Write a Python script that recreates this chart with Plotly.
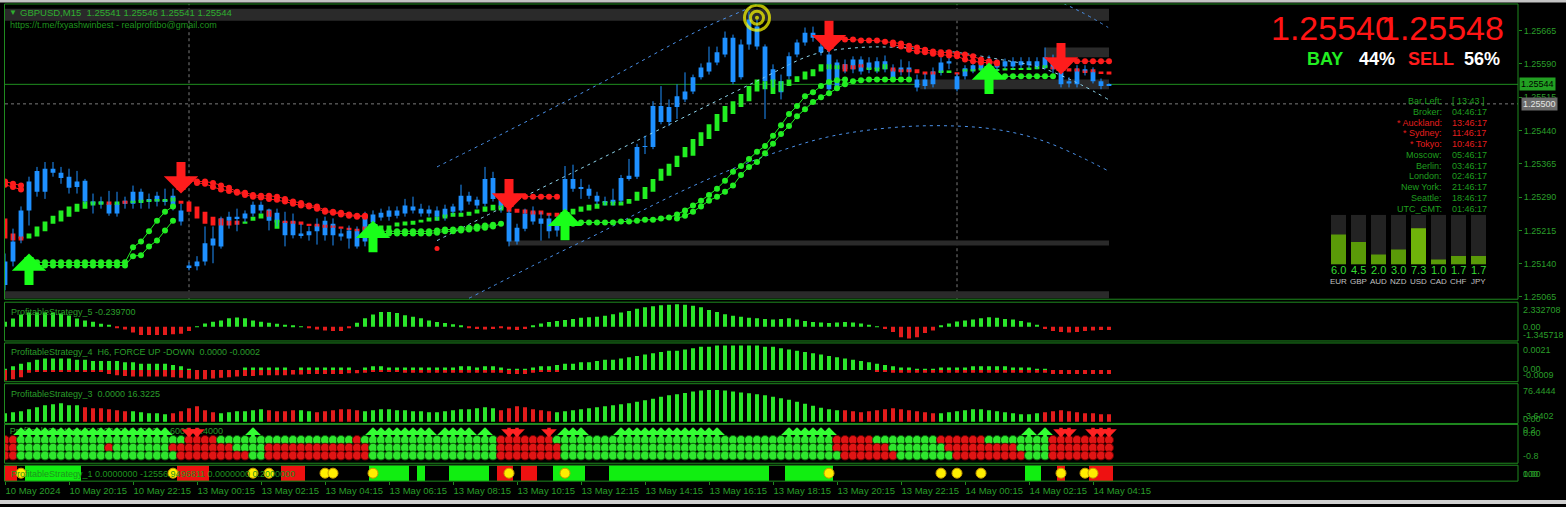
import plotly.graph_objects as go

W, H = 1566, 507
def px(x): return x / W
def py(y): return 1 - y / H

# ---------------- DATA ----------------
tick_idx = [0, 8, 16, 24, 32, 40, 48, 56, 64, 72, 80, 88, 96, 104, 112, 120, 128, 136]
tick_text = ["10 May 2024", "10 May 20:15", "10 May 22:15", "13 May 00:15", "13 May 02:15",
             "13 May 04:15", "13 May 06:15", "13 May 08:15", "13 May 10:15", "13 May 12:15",
             "13 May 14:15", "13 May 16:15", "13 May 18:15", "13 May 20:15", "13 May 22:15",
             "14 May 00:15", "14 May 02:15", "14 May 04:15"]
day_sep_idx = [23, 119]

O = [1.25092,1.25145,1.25197,1.25260,1.25302,1.25302,1.25354,1.25345,1.25336,1.25313,
     1.25327,1.25280,1.25275,1.25275,1.25253,1.25275,1.25275,1.25302,1.25280,1.25280,
     1.25282,1.25269,1.25260,1.25136,1.25134,1.25145,1.25181,1.25179,1.25237,1.25246,
     1.25242,1.25253,1.25273,1.25262,1.25233,1.25235,1.25204,1.25208,1.25204,1.25213,
     1.25237,1.25204,1.25208,1.25215,1.25215,1.25190,1.25233,1.25244,1.25246,1.25260,
     1.25253,1.25269,1.25264,1.25253,1.25260,1.25246,1.25257,1.25260,1.25293,1.25284,
     1.25275,1.25333,1.25286,1.25255,1.25190,1.25219,1.25257,1.25230,1.25242,1.25215,
     1.25260,1.25331,1.25309,1.25309,1.25293,1.25280,1.25277,1.25282,1.25331,1.25336,
     1.25403,1.25403,1.25495,1.25459,1.25493,1.25510,1.25528,1.25560,1.25573,1.25593,
     1.25611,1.25649,1.25560,1.25634,1.25674,1.25629,1.25551,1.25551,1.25562,1.25611,
     1.25638,1.25660,1.25629,1.25611,1.25537,1.25589,1.25578,1.25600,1.25578,1.25578,
     1.25596,1.25578,1.25573,1.25582,1.25555,1.25540,1.25544,1.25571,1.25596,1.25562,
     1.25562,1.25575,1.25578,1.25584,1.25593,1.25584,1.25596,1.25587,1.25596,1.25584,
     1.25582,1.25593,1.25571,1.25546,1.25544,1.25578,1.25573,1.25551,1.25541]
HI = [1.25163,1.25219,1.25269,1.25336,1.25358,1.25369,1.25369,1.25358,1.25354,1.25349,
      1.25331,1.25298,1.25291,1.25304,1.25302,1.25291,1.25316,1.25309,1.25298,1.25302,
      1.25309,1.25309,1.25275,1.25143,1.25157,1.25224,1.25224,1.25246,1.25257,1.25264,
      1.25260,1.25280,1.25280,1.25264,1.25264,1.25257,1.25253,1.25230,1.25224,1.25242,
      1.25246,1.25242,1.25219,1.25226,1.25224,1.25257,1.25260,1.25264,1.25269,1.25269,
      1.25286,1.25291,1.25275,1.25271,1.25269,1.25273,1.25275,1.25318,1.25302,1.25291,
      1.25358,1.25347,1.25298,1.25264,1.25230,1.25264,1.25269,1.25257,1.25251,1.25246,
      1.25360,1.25363,1.25331,1.25318,1.25302,1.25291,1.25309,1.25340,1.25376,1.25410,
      1.25428,1.25506,1.25540,1.25510,1.25544,1.25571,1.25566,1.25591,1.25629,1.25629,
      1.25663,1.25656,1.25645,1.25708,1.25690,1.25634,1.25589,1.25566,1.25616,1.25645,
      1.25672,1.25674,1.25645,1.25618,1.25600,1.25600,1.25607,1.25607,1.25605,1.25605,
      1.25609,1.25589,1.25600,1.25596,1.25566,1.25569,1.25582,1.25605,1.25605,1.25569,
      1.25587,1.25596,1.25600,1.25609,1.25600,1.25602,1.25605,1.25605,1.25605,1.25605,
      1.25627,1.25611,1.25578,1.25560,1.25587,1.25587,1.25582,1.25557,1.25546]
LO = [1.25080,1.25134,1.25186,1.25226,1.25291,1.25286,1.25336,1.25320,1.25298,1.25298,
      1.25275,1.25253,1.25264,1.25248,1.25246,1.25264,1.25264,1.25264,1.25264,1.25269,
      1.25271,1.25260,1.25226,1.25125,1.25125,1.25136,1.25141,1.25174,1.25219,1.25213,
      1.25233,1.25246,1.25253,1.25215,1.25224,1.25179,1.25197,1.25197,1.25192,1.25183,
      1.25192,1.25181,1.25192,1.25174,1.25174,1.25179,1.25224,1.25237,1.25237,1.25242,
      1.25246,1.25253,1.25246,1.25246,1.25237,1.25237,1.25251,1.25255,1.25273,1.25264,
      1.25269,1.25280,1.25255,1.25179,1.25183,1.25213,1.25228,1.25192,1.25197,1.25201,
      1.25253,1.25302,1.25286,1.25286,1.25273,1.25271,1.25271,1.25277,1.25327,1.25331,
      1.25387,1.25398,1.25454,1.25450,1.25466,1.25504,1.25522,1.25555,1.25566,1.25587,
      1.25605,1.25544,1.25555,1.25622,1.25622,1.25466,1.25537,1.25510,1.25555,1.25605,
      1.25631,1.25640,1.25609,1.25528,1.25533,1.25569,1.25569,1.25566,1.25569,1.25569,
      1.25571,1.25551,1.25564,1.25560,1.25528,1.25533,1.25537,1.25564,1.25578,1.25528,
      1.25555,1.25569,1.25571,1.25578,1.25575,1.25578,1.25578,1.25580,1.25580,1.25578,
      1.25578,1.25569,1.25537,1.25537,1.25537,1.25564,1.25546,1.25533,1.25541]
C = [1.25145,1.25190,1.25260,1.25325,1.25349,1.25354,1.25345,1.25333,1.25311,1.25325,
     1.25280,1.25275,1.25280,1.25253,1.25275,1.25282,1.25302,1.25280,1.25286,1.25293,
     1.25280,1.25293,1.25235,1.25132,1.25145,1.25186,1.25197,1.25242,1.25246,1.25242,
     1.25253,1.25273,1.25260,1.25237,1.25255,1.25204,1.25235,1.25204,1.25213,1.25226,
     1.25204,1.25230,1.25201,1.25197,1.25179,1.25248,1.25251,1.25255,1.25260,1.25248,
     1.25271,1.25260,1.25253,1.25262,1.25246,1.25264,1.25269,1.25293,1.25280,1.25271,
     1.25331,1.25286,1.25264,1.25190,1.25221,1.25253,1.25235,1.25242,1.25213,1.25237,
     1.25331,1.25309,1.25313,1.25293,1.25280,1.25277,1.25284,1.25333,1.25338,1.25403,
     1.25405,1.25495,1.25459,1.25493,1.25517,1.25528,1.25560,1.25582,1.25593,1.25616,
     1.25649,1.25549,1.25634,1.25690,1.25629,1.25551,1.25578,1.25526,1.25607,1.25638,
     1.25660,1.25649,1.25616,1.25533,1.25593,1.25578,1.25600,1.25573,1.25593,1.25596,
     1.25578,1.25555,1.25582,1.25573,1.25537,1.25555,1.25573,1.25593,1.25591,1.25533,
     1.25580,1.25587,1.25589,1.25600,1.25582,1.25596,1.25584,1.25596,1.25587,1.25596,
     1.25605,1.25578,1.25544,1.25551,1.25578,1.25573,1.25551,1.25540,1.25544]

# smoothed Heiken-Ashi blocks
ha_o = [1.25242,1.25208,1.25201,1.25197,1.25201,1.25213,1.25230,1.25235,1.25246,1.25257,
        1.25264,1.25271,1.25273,1.25280,1.25273,1.25282,1.25277,1.25277,1.25280,1.25280,
        1.25280,1.25280,1.25282,1.25280,1.25269,1.25257,1.25246,1.25242,1.25237,1.25237,
        1.25230,1.25237,1.25242,1.25260,1.25219,1.25237,1.25237,1.25235,1.25230,1.25230,
        1.25228,1.25226,1.25224,1.25221,1.25219,1.25224,1.25217,1.25217,1.25217,1.25224,
        1.25226,1.25228,1.25233,1.25235,1.25237,1.25242,1.25246,1.25246,1.25248,1.25253,
        1.25257,1.25260,1.25260,1.25269,1.25264,1.25262,1.25260,1.25260,1.25255,1.25255,
        1.25251,1.25251,1.25257,1.25260,1.25264,1.25271,1.25271,1.25271,1.25275,1.25282,
        1.25286,1.25302,1.25327,1.25338,1.25358,1.25380,1.25383,1.25405,1.25421,1.25439,
        1.25459,1.25477,1.25493,1.25506,1.25528,1.25533,1.25522,1.25528,1.25540,1.25549,
        1.25555,1.25562,1.25573,1.25578,1.25578,1.25589,1.25587,1.25589,1.25578,1.25573,
        1.25578,1.25582,1.25578,1.25578,1.25578,1.25573,1.25573,1.25571,1.25571,1.25571,
        1.25573,1.25573,1.25575,1.25578,1.25575,1.25575,1.25578,1.25578,1.25578,1.25578,
        1.25580,1.25584,1.25582,1.25580,1.25580,1.25575,1.25578,1.25573,1.25573]
ha_c = [1.25197,1.25192,1.25192,1.25208,1.25224,1.25235,1.25248,1.25260,1.25269,1.25275,
        1.25280,1.25280,1.25280,1.25273,1.25280,1.25275,1.25282,1.25284,1.25284,1.25286,
        1.25286,1.25289,1.25275,1.25257,1.25242,1.25230,1.25226,1.25226,1.25226,1.25228,
        1.25235,1.25246,1.25253,1.25246,1.25239,1.25233,1.25230,1.25228,1.25226,1.25224,
        1.25221,1.25221,1.25219,1.25217,1.25213,1.25215,1.25224,1.25226,1.25226,1.25233,
        1.25235,1.25237,1.25239,1.25244,1.25246,1.25251,1.25255,1.25255,1.25257,1.25262,
        1.25269,1.25273,1.25271,1.25257,1.25255,1.25253,1.25251,1.25251,1.25248,1.25246,
        1.25260,1.25264,1.25269,1.25273,1.25275,1.25280,1.25280,1.25280,1.25286,1.25302,
        1.25313,1.25331,1.25354,1.25365,1.25383,1.25403,1.25421,1.25436,1.25454,1.25477,
        1.25495,1.25506,1.25522,1.25540,1.25555,1.25551,1.25555,1.25551,1.25555,1.25562,
        1.25573,1.25578,1.25589,1.25589,1.25587,1.25573,1.25578,1.25582,1.25582,1.25582,
        1.25589,1.25573,1.25571,1.25571,1.25569,1.25566,1.25566,1.25575,1.25575,1.25566,
        1.25578,1.25578,1.25580,1.25571,1.25578,1.25580,1.25580,1.25580,1.25582,1.25584,
        1.25587,1.25578,1.25573,1.25573,1.25573,1.25571,1.25571,1.25569,1.25566]

# trailing-stop dot lines: (first bar index, values)
res_a = [(0, [1.25325, 1.25320, 1.25316]),
         (22, [1.25327, 1.25327, 1.25325, 1.25325, 1.25322, 1.25316, 1.25311, 1.25302, 1.25300, 1.25295,
               1.25293, 1.25293, 1.25291, 1.25286, 1.25280, 1.25277, 1.25271, 1.25269, 1.25260, 1.25257,
               1.25255, 1.25251, 1.25248, 1.25248]),
         (63, [1.25291, 1.25291, 1.25291, 1.25291, 1.25291, 1.25291, 1.25291]),
         (103, [1.25645, 1.25645, 1.25645, 1.25645, 1.25643, 1.25643, 1.25643, 1.25640, 1.25638, 1.25636,
                1.25631, 1.25627, 1.25622, 1.25618, 1.25616, 1.25616, 1.25613, 1.25611, 1.25607, 1.25600,
                1.25596, 1.25593]),
         (131, [1.25596, 1.25596, 1.25596, 1.25596, 1.25596, 1.25596, 1.25596, 1.25596])]
res_b = [(0, [1.25318, 1.25313, 1.25307]),
         (24, [1.25322, 1.25320, 1.25313, 1.25307, 1.25304, 1.25300, 1.25295, 1.25291, 1.25289, 1.25286,
               1.25284, 1.25280, 1.25275, 1.25271, 1.25269, 1.25264, 1.25257, 1.25255, 1.25251, 1.25248,
               1.25246, 1.25246]),
         (111, [1.25634, 1.25629, 1.25622, 1.25618, 1.25616, 1.25613, 1.25611, 1.25609, 1.25607, 1.25600,
                1.25596, 1.25593, 1.25593, 1.25591])]
sup_a = [(3, [1.25143, 1.25143, 1.25143, 1.25143, 1.25143, 1.25143, 1.25143, 1.25143, 1.25143, 1.25143,
              1.25143, 1.25143, 1.25143, 1.25177, 1.25190, 1.25213, 1.25237, 1.25257, 1.25269]),
         (45, [1.25206, 1.25208, 1.25208, 1.25208, 1.25208, 1.25208, 1.25208, 1.25208, 1.25208, 1.25210,
               1.25213, 1.25213, 1.25215, 1.25217, 1.25219, 1.25221, 1.25224, 1.25230]),
         (70, [1.25228, 1.25230, 1.25233, 1.25233, 1.25233, 1.25233, 1.25233, 1.25235, 1.25235, 1.25237,
               1.25239, 1.25239, 1.25242, 1.25244, 1.25251, 1.25260, 1.25271, 1.25282, 1.25295, 1.25309,
               1.25327, 1.25347, 1.25360, 1.25376, 1.25392, 1.25405, 1.25428, 1.25452, 1.25477, 1.25495,
               1.25517, 1.25526, 1.25540, 1.25549, 1.25553, 1.25555]),
         (123, [1.25562, 1.25562, 1.25562, 1.25562, 1.25562, 1.25562, 1.25562, 1.25562, 1.25562])]
sup_b = [(3, [1.25136, 1.25136, 1.25136, 1.25136, 1.25136, 1.25136, 1.25136, 1.25136, 1.25136, 1.25136,
              1.25136, 1.25136, 1.25136, 1.25157, 1.25159, 1.25179, 1.25192, 1.25215, 1.25237]),
         (46, [1.25213, 1.25213, 1.25213, 1.25213, 1.25213, 1.25213, 1.25213, 1.25213, 1.25215, 1.25217,
               1.25217, 1.25219, 1.25221, 1.25224, 1.25226, 1.25228]),
         (84, [1.25242, 1.25248, 1.25257, 1.25269, 1.25282, 1.25291, 1.25302, 1.25316, 1.25340, 1.25358,
               1.25369, 1.25389, 1.25410, 1.25432, 1.25450, 1.25472, 1.25488, 1.25504, 1.25515, 1.25524,
               1.25535, 1.25544, 1.25551, 1.25553, 1.25555, 1.25555, 1.25555, 1.25555, 1.25555, 1.25555])]

up_arrow_idx = [3, 46, 70, 123]
up_arrow_price = [1.25163, 1.25237, 1.25264, 1.25593]
dn_arrow_idx = [22, 63, 103, 132]
dn_arrow_price = [1.25298, 1.25260, 1.25616, 1.25566]
target_idx, target_price = 94, 1.25694
red_dot_idx, red_dot_price = 54, 1.25174

# regression channel
upper_x = [54, 61.9, 74.4, 86.9, 94, 101, 111.9, 119, 124.4, 129.4, 134.4, 137.9]
upper_p = [1.25358, 1.25430, 1.25546, 1.25667, 1.25725, 1.25795, 1.25806, 1.25790, 1.25759, 1.25746, 1.25708, 1.25672]
center_x = [54, 61.9, 74.4, 86.9, 94.4, 101, 106.9, 111.9, 118.1, 124.4, 129.4, 134.4, 137.9]
center_p = [1.25192, 1.25264, 1.25376, 1.25488, 1.25555, 1.25611, 1.25627, 1.25627, 1.25618, 1.25600, 1.25582, 1.25544, 1.25510]
lower_x = [58, 67.8, 74.4, 81.9, 89.4, 96.9, 103.5, 111.9, 119, 124.4, 129.4, 134.4, 137.9]
lower_p = [1.25062, 1.25152, 1.25210, 1.25280, 1.25342, 1.25394, 1.25428, 1.25448, 1.25450, 1.25441, 1.25419, 1.25381, 1.25349]

# supply/demand zones: start idx, end idx, low, high
zone_start = [0, 0, 63, 114.4, 130]
zone_end = [138, 138, 138, 138, 138]
zone_lo = [1.25687, 1.25062, 1.25181, 1.25533, 1.25605]
zone_hi = [1.25714, 1.25078, 1.25192, 1.25555, 1.25627]
level_price = 1.25500
price_ticks = [1.25665, 1.25590, 1.25515, 1.25440, 1.25365, 1.25290, 1.25215, 1.25140, 1.25065]

# ProfitableStrategy_5
p5 = [0.48,0.78,1.16,1.36,1.36,1.36,1.36,1.26,1.07,0.78,
      0.60,0.48,0.29,0.19,-0.08,-0.25,-0.55,-0.78,-0.78,-0.78,
      -0.78,-0.72,-0.65,-0.40,0.05,0.30,0.48,0.60,0.80,0.87,
      0.80,0.60,0.48,0.39,0.29,0.19,0.12,0.04,-0.15,-0.25,
      -0.35,-0.40,-0.40,-0.08,0.39,0.80,1.16,1.40,1.40,1.30,
      1.10,0.95,0.80,0.60,0.45,0.35,0.25,0.12,-0.10,-0.20,
      -0.25,-0.20,-0.15,-0.25,-0.30,-0.20,0.15,0.30,0.45,0.55,
      0.65,0.75,0.85,0.90,0.95,1.05,1.20,1.35,1.50,1.70,
      1.85,1.95,2.05,2.10,2.15,2.10,2.00,1.85,1.60,1.40,
      1.20,1.05,0.95,0.85,0.80,0.75,0.70,0.75,0.80,0.70,
      0.55,0.45,0.40,0.35,0.40,0.45,0.40,0.30,0.20,0.05,
      -0.20,-0.50,-1.00,-1.10,-1.00,-0.60,-0.35,0.10,0.30,0.50,
      0.60,0.70,0.80,0.90,0.85,0.75,0.70,0.55,0.40,0.20,
      -0.20,-0.40,-0.50,-0.55,-0.50,-0.40,-0.35,-0.30,-0.30]
# ProfitableStrategy_4
p4_up = [0.0001,0.0003,0.0005,0.0006,0.0008,0.0009,0.0009,0.0009,0.0009,0.0008,
         0.0008,0.0007,0.0007,0.0007,0.0007,0.0006,0.0006,0.0005,0.0005,0.0005,
         0.0005,0.0004,0.0003,0.0001,0,0,0,0,0,0,
         0.0002,0.0002,0.0002,0.0002,0.0002,0.0002,0,0.0002,0.0002,0.0002,
         0.0002,0.0002,0.0002,0.0002,0,0.0002,0.0003,0.0003,0.0002,0.0002,
         0.0002,0.0002,0.0002,0.0002,0.0002,0.0002,0.0002,0.0003,0.0003,0.0002,
         0.0003,0.0003,0.0002,0.0001,0.0001,0.0001,0.0002,0.0003,0.0003,0.0004,
         0.0005,0.0005,0.0006,0.0006,0.0007,0.0008,0.0008,0.0009,0.0010,0.0011,
         0.0012,0.0013,0.0014,0.0015,0.0015,0.0016,0.0017,0.0018,0.0018,0.0019,
         0.0019,0.0019,0.0019,0.0019,0.0019,0.0018,0.0018,0.0017,0.0016,0.0015,
         0.0014,0.0013,0.0012,0.0011,0.0010,0.0009,0.0008,0.0007,0.0006,0.0005,
         0.0004,0.0003,0.0002,0.0002,0.0001,0.0001,0.0001,0.0002,0.0002,0.0002,
         0.0002,0.0003,0.0003,0.0003,0.0003,0.0003,0.0002,0.0002,0.0002,0.0001,
         0.0001,0,0,0,0,0,0,0,0]
p4_dn = [-0.0008,-0.0007,-0.00055,-0.0002,-0.0001,-0.0001,-0.0001,-0.0001,-0.0001,-0.0001,
         -0.0001,-0.0001,-0.0001,-0.0003,-0.0004,-0.00045,-0.0005,-0.0005,-0.0005,-0.0005,
         -0.0005,-0.00055,-0.0006,-0.00065,-0.0007,-0.0007,-0.00065,-0.0006,-0.00055,-0.0005,
         -0.00045,-0.00045,-0.0004,-0.0004,-0.0004,-0.0004,-0.00035,-0.00035,-0.0003,-0.0003,
         -0.0003,-0.0003,-0.0003,-0.00025,-0.00025,-0.0002,-0.0001,-0.0001,-0.0001,-0.0001,
         -0.0002,-0.0002,-0.0002,-0.0002,-0.0002,-0.0002,-0.0002,-0.0002,-0.0002,-0.0002,
         -0.0002,-0.0002,-0.0002,-0.0003,-0.0003,-0.0003,-0.0002,-0.0001,-0.0001,-0.0001,
         0,0,0,0,0,0,0,0,0,0,
         0,0,0,0,0,0,0,0,0,0,
         0,0,0,0,0,0,0,0,0,0,
         0,0,0,0,0,0,0,0,0,-0.0001,
         -0.0001,-0.0002,-0.0002,-0.0002,-0.0002,-0.0002,-0.0002,-0.0002,-0.0002,-0.0002,
         -0.0002,-0.0002,-0.0002,-0.0002,-0.0002,-0.0002,-0.0002,-0.0002,-0.0002,-0.0002,
         -0.0002,-0.0003,-0.0003,-0.0003,-0.0003,-0.0003,-0.0003,-0.0003,-0.0003]
# ProfitableStrategy_3
p3 = [17,19,21,25,29,33,35,37,33,33,
      29,27,27,25,23,21,21,19,17,17,
      15,17,21,27,31,23,19,17,19,21,
      21,23,25,23,21,21,23,23,21,19,
      21,23,25,25,23,21,23,25,25,23,
      23,21,21,19,19,21,23,25,25,27,
      29,27,23,27,31,29,25,23,21,19,
      21,23,25,27,29,31,33,35,37,40,
      43,46,50,53,55,58,61,63,64,64,
      63,61,59,57,55,53,50,47,44,40,
      36,32,28,25,23,23,21,19,21,23,
      25,27,25,23,21,19,17,17,19,21,
      23,25,25,23,21,19,17,15,15,17,
      19,21,23,21,19,17,17,15,15]
p3_color = ("GGGGGGGGGG" "RRRRRRGGGG" "GRRRRRRGGG" "GGGRRRRGGR" "RRRRRGGGGG"
            "GGGGGGGGGG" "GGRRRRRRRG" "GGGGGGGGGG" "GGGGGGGGGG" "GGGGGGGGGG"
            "GGGGGRRRRR" "RRRRRRRGGG" "GGGGGGGGGG" "RRRRRRRRR")
# ProfitableStrategy_2 : dot rows (run-length: colour, bars) and arrow bars
p2_levels = [-0.2, -0.4, -0.6]
p2_rows = [
    [("R", 2), ("G", 21), ("R", 4), ("G", 17), ("R", 1), ("G", 17), ("R", 7), ("G", 35), ("R", 5),
     ("G", 8), ("R", 6), ("G", 8), ("R", 8)],
    [("R", 2), ("G", 11), ("R", 1), ("G", 7), ("R", 8), ("G", 4), ("R", 13), ("G", 16), ("R", 8),
     ("G", 34), ("R", 7), ("G", 7), ("R", 9), ("G", 4), ("R", 8)],
    [("R", 2), ("G", 20), ("R", 9), ("G", 2), ("R", 13), ("G", 16), ("R", 8), ("G", 35), ("R", 7),
     ("G", 7), ("R", 9), ("G", 3), ("R", 8)],
]
p2_up = [2, 3, 4, 5, 6, 7, 8, 9, 10, 11, 12, 13, 14, 15, 16, 17, 18, 19, 20, 31,
         46, 47, 48, 49, 50, 51, 52, 53, 55, 56, 57, 58, 60, 70, 71, 72,
         77, 78, 79, 80, 81, 82, 83, 84, 85, 86, 87, 88, 89, 98, 99, 100, 101, 102, 103, 128, 130]
p2_dn = [23, 24, 63, 64, 68, 132, 133, 136, 137, 138]
# ProfitableStrategy_1 : coloured blocks and yellow dots
p1_green = [3, 4, 5, 6, 7, 8, 9, 46, 47, 48, 49, 50, 52, 56, 57, 58, 59, 60, 69, 70, 71, 72,
            76, 77, 78, 79, 80, 81, 82, 83, 84, 85, 86, 87, 88, 89, 90, 91, 92, 93, 94, 95,
            98, 99, 100, 101, 102, 103, 128, 129]
p1_red = [0, 1, 22, 23, 24, 25, 35, 36, 37, 62, 63, 65, 66, 132, 136, 137, 138]
p1_dots = [2, 21, 31, 33, 40, 41, 46, 63, 70, 103, 117, 119, 122, 132, 135, 136]

# currency strength
cur_names = ["EUR", "GBP", "AUD", "NZD", "USD", "CAD", "CHF", "JPY"]
cur_vals = [6.0, 4.5, 2.0, 3.0, 7.3, 1.0, 1.7, 1.7]
# clocks
clock_labels = ["Bar Left:", "Broker:", "* Auckland:", "* Sydney:", "* Tokyo:", "Moscow:",
                "Berlin:", "London:", "New York:", "Seattle:", "UTC_GMT:"]
clock_values = ["[ 13:43 ]", "04:46:17", "13:46:17", "11:46:17", "10:46:17", "05:46:17",
                "03:46:17", "02:46:17", "21:46:17", "18:46:17", "01:46:17"]
clock_red = [False, False, True, True, True, False, False, False, False, False, False]
bid, ask = 1.25540, 1.25548
buy_pct, sell_pct = 44, 56

# ---------------- STYLE ----------------
BG = "#000000"
FRAME = "#1f8a1f"
TXT = "#2a9e2a"
CANDLE = "#1e90ff"
LIME = "#22ee22"
ARROW_G = "#19ff19"
RED = "#ff1c1c"
HG = "#2be62b"
HR = "#e31c1c"
FONT = "Liberation Sans"

fig = go.Figure()

def seg_xy(segs):
    xs, ys = [], []
    for start, vals in segs:
        for k, v in enumerate(vals):
            xs.append(start + k)
            ys.append(v)
        xs.append(None)
        ys.append(None)
    return xs, ys

# zones
for a, b, lo, hi in zip(zone_start, zone_end, zone_lo, zone_hi):
    fig.add_shape(type="rect", xref="x", yref="y", x0=a, x1=b, y0=lo, y1=hi,
                  fillcolor="#2a2a2a", line_width=0, layer="below")
# separators and levels
for d in day_sep_idx:
    fig.add_shape(type="line", xref="x", yref="paper", x0=d, x1=d, y0=py(301), y1=py(4),
                  line=dict(color="#7a7a7a", width=1, dash="3px,3px"), layer="below")
fig.add_shape(type="line", xref="paper", yref="y", x0=px(5), x1=px(1518), y0=level_price, y1=level_price,
              line=dict(color="#7a7a7a", width=1, dash="3px,3px"), layer="below")
fig.add_shape(type="line", xref="paper", yref="y", x0=px(5), x1=px(1518), y0=C[-1], y1=C[-1],
              line=dict(color="#1f8f1f", width=1), layer="below")

# channel
fig.add_trace(go.Scatter(x=upper_x, y=upper_p, mode="lines", line=dict(color="#4a90e8", width=1, dash="3px,4px", shape="spline"), hoverinfo="skip"))
fig.add_trace(go.Scatter(x=lower_x, y=lower_p, mode="lines", line=dict(color="#4a90e8", width=1, dash="3px,4px", shape="spline"), hoverinfo="skip"))
fig.add_trace(go.Scatter(x=center_x, y=center_p, mode="lines", line=dict(color="#8fd6ee", width=1, dash="3px,4px", shape="spline"), hoverinfo="skip"))

# candles
idx = list(range(len(C)))
wx, wy = [], []
for i in idx:
    wx += [i, i, None]
    wy += [LO[i], HI[i], None]
fig.add_trace(go.Scatter(x=wx, y=wy, mode="lines", line=dict(color=CANDLE, width=1), hoverinfo="skip"))
fig.add_trace(go.Bar(x=idx, y=[max(abs(c - o), 0.000012) for o, c in zip(O, C)],
                     base=[min(o, c) for o, c in zip(O, C)], width=0.6,
                     marker=dict(color=CANDLE, line_width=0), hoverinfo="skip"))
# HA blocks
hidx = list(range(len(ha_o)))
fig.add_trace(go.Bar(x=hidx, y=[max(abs(c - o), 0.00002) for o, c in zip(ha_o, ha_c)],
                     base=[min(o, c) for o, c in zip(ha_o, ha_c)], width=0.6,
                     marker=dict(color=[LIME if c >= o else RED for o, c in zip(ha_o, ha_c)], line_width=0),
                     hoverinfo="skip"))
# dot lines
for segs, col in [(res_a, RED), (res_b, RED), (sup_a, LIME), (sup_b, LIME)]:
    xs, ys = seg_xy(segs)
    fig.add_trace(go.Scatter(x=xs, y=ys, mode="lines+markers", line=dict(color=col, width=1),
                             marker=dict(color=col, size=6), connectgaps=False, hoverinfo="skip"))
fig.add_trace(go.Scatter(x=[red_dot_idx], y=[red_dot_price], mode="markers",
                         marker=dict(color=RED, size=5), hoverinfo="skip"))
# target
fig.add_trace(go.Scatter(x=[target_idx, target_idx, target_idx], y=[target_price] * 3, mode="markers",
                         marker=dict(symbol=["circle-open", "circle-open", "circle"], size=[25, 13, 4],
                                     color="#ffff00", line=dict(color="#ffff00", width=[3, 3, 0])),
                         hoverinfo="skip"))
# big arrows
for i, p in zip(up_arrow_idx, up_arrow_price):
    fig.add_annotation(x=i, y=p, xref="x", yref="y", text="", showarrow=True, arrowhead=1,
                       arrowsize=0.64, arrowwidth=9, arrowcolor=ARROW_G, ax=0, ay=33, standoff=0)
for i, p in zip(dn_arrow_idx, dn_arrow_price):
    fig.add_annotation(x=i, y=p, xref="x", yref="y", text="", showarrow=True, arrowhead=1,
                       arrowsize=0.64, arrowwidth=9, arrowcolor=RED, ax=0, ay=-33, standoff=0)

# ---- P5
fig.add_trace(go.Bar(x=list(range(len(p5))), y=p5, width=0.5, yaxis="y2",
                     marker=dict(color=[HG if v >= 0 else HR for v in p5], line_width=0), hoverinfo="skip"))
# ---- P4
fig.add_trace(go.Bar(x=list(range(len(p4_up))), y=p4_up, width=0.5, yaxis="y3",
                     marker=dict(color=HG, line_width=0), hoverinfo="skip"))
fig.add_trace(go.Bar(x=list(range(len(p4_dn))), y=p4_dn, width=0.5, yaxis="y3",
                     marker=dict(color=HR, line_width=0), hoverinfo="skip"))
# ---- P3
fig.add_trace(go.Bar(x=list(range(len(p3))), y=p3, width=0.5, yaxis="y4",
                     marker=dict(color=[HG if ch == "G" else HR for ch in p3_color], line_width=0), hoverinfo="skip"))
# ---- P2
fig.add_trace(go.Scatter(x=[0.6], y=[0.0], mode="text", yaxis="y5",
                         text=["ProfitableStrategy_2  0.0000 -0.2000 -0.6000 -0.4000"],
                         textposition="middle right", textfont=dict(color=TXT, size=9, family=FONT),
                         hoverinfo="skip"))
for lvl, runs in zip(p2_levels, p2_rows):
    codes = "".join(ch * n for ch, n in runs)
    fig.add_trace(go.Scatter(x=list(range(len(codes))), y=[lvl] * len(codes), mode="markers", yaxis="y5",
                             marker=dict(size=9, color=["#2ee62e" if ch == "G" else "#e01414" for ch in codes],
                                         line=dict(width=1, color=["#0b5e0b" if ch == "G" else "#6a0000" for ch in codes])),
                             hoverinfo="skip"))
for i in p2_up:
    fig.add_annotation(x=i, y=0, xref="x", yref="y5", yshift=5, text="", showarrow=True, arrowhead=1,
                       arrowsize=0.75, arrowwidth=3.5, arrowcolor="#33ff33", ax=0, ay=11, standoff=0)
for i in p2_dn:
    fig.add_annotation(x=i, y=0, xref="x", yref="y5", yshift=-5, text="", showarrow=True, arrowhead=1,
                       arrowsize=0.75, arrowwidth=3.5, arrowcolor="#ff2222", ax=0, ay=-11, standoff=0)
# ---- P1
fig.add_trace(go.Bar(x=p1_green, y=[1] * len(p1_green), width=1.0, yaxis="y6",
                     marker=dict(color="#11ee11", line_width=0), hoverinfo="skip"))
fig.add_trace(go.Bar(x=p1_red, y=[1] * len(p1_red), width=1.0, yaxis="y6",
                     marker=dict(color="#ee1111", line_width=0), hoverinfo="skip"))
fig.add_trace(go.Scatter(x=p1_dots, y=[0.5] * len(p1_dots), mode="markers", yaxis="y6",
                         marker=dict(color="#ffee00", size=10, line=dict(color="#c89a00", width=1)), hoverinfo="skip"))

# ---- currency strength
fig.add_trace(go.Bar(x=list(range(len(cur_names))), y=[10] * len(cur_names), width=0.75, xaxis="x2", yaxis="y7",
                     marker=dict(color="#232323", line_width=0), hoverinfo="skip"))
fig.add_trace(go.Bar(x=list(range(len(cur_names))), y=cur_vals, width=0.75, xaxis="x2", yaxis="y7",
                     marker=dict(color=["#6fb30a" if v > 7 else "#5a9a08" for v in cur_vals], line_width=0),
                     hoverinfo="skip"))
for k, (n, v) in enumerate(zip(cur_names, cur_vals)):
    fig.add_annotation(x=k, y=py(272), xref="x2", yref="paper", text=f"{v:.1f}", showarrow=False,
                       font=dict(size=11, color="#33dd33", family=FONT), yanchor="middle")
    fig.add_annotation(x=k, y=py(283), xref="x2", yref="paper", text=n, showarrow=False,
                       font=dict(size=8, color="#c0c0c0", family=FONT), yanchor="middle")

# ---------------- TEXTS ----------------
def txt(x, y, s, size=9, color=TXT, xanchor="left"):
    fig.add_annotation(x=px(x), y=py(y), xref="paper", yref="paper", text=s, showarrow=False,
                       xanchor=xanchor, yanchor="middle", font=dict(size=size, color=color, family=FONT),
                       borderpad=0)

txt(8, 13, "▼", size=8, color="#2fae2f")
txt(19, 13, "GBPUSD,M15  %.5f %.5f %.5f %.5f" % (O[-1], HI[-1], LO[-1], C[-1]), size=9.5, color="#2fae2f")
txt(9, 25, "https://t.me/fxyashwinbest - realprofitbo@gmail.com", size=9, color="#1f941f")

txt(1270, 28, f"{bid:.5f}", size=34, color="#ff1414")
txt(1380, 28, f"{ask:.5f}", size=34, color="#ff1414")
txt(1306, 59, "<b>BAY</b>", size=18, color="#22ee22")
txt(1358, 59, f"<b>{buy_pct}%</b>", size=18, color="#ffffff")
txt(1407, 59, "<b>SELL</b>", size=18, color="#ff1c1c")
txt(1463, 59, f"<b>{sell_pct}%</b>", size=18, color="#ffffff")

for k, (lab, val, isred) in enumerate(zip(clock_labels, clock_values, clock_red)):
    y = 101.7 + k * 10.83
    col = "#e61e1e" if isred else "#1f9f1f"
    txt(1443, y, lab, size=9, color=col, xanchor="right")
    txt(1451, y, val, size=9, color=col)

txt(10, 313.5, "ProfitableStrategy_5 -0.239700")
txt(10, 354.5, "ProfitableStrategy_4  H6, FORCE UP -DOWN  0.0000 -0.0002")
txt(10, 396, "ProfitableStrategy_3  0.0000 16.3225")
txt(10, 477, "ProfitableStrategy_1 0.0000000 -12556.9496811 0.0000000 0.2000000", color="#1f941f")

# right-side labels of sub windows
for (y, s) in [(311.5, "2.332708"), (329, "0.00"), (336.5, "-1.345718"),
               (352, "0.0021"), (371.5, "0.00"), (377.5, "-0.0009"),
               (393, "76.4444"), (421.5, "0.00"), (418, "-3.6402"),
               (433, "0.2"), (436, "0.00"), (459, "-0.8"),
               (476.5, "0.00"), (476.5, "100")]:
    txt(1522, y, s, size=9)

# price boxes
fig.add_annotation(x=px(1519), y=C[-1], xref="paper", yref="y", text=f"{C[-1]:.5f}", showarrow=False,
                   xanchor="left", yanchor="middle", bgcolor="#22a022", borderpad=1,
                   font=dict(size=9, color="#000000", family=FONT))
fig.add_annotation(x=px(1521), y=level_price, xref="paper", yref="y", text=f"{level_price:.5f}", showarrow=False,
                   xanchor="left", yanchor="middle", bgcolor="#6b6b6b", borderpad=1,
                   font=dict(size=9, color="#e6e6e6", family=FONT))

# frames
for (t, b) in [(4, 301), (304, 343), (345, 384), (386, 426), (427, 466), (468, 484)]:
    fig.add_shape(type="rect", xref="paper", yref="paper", x0=px(4.5), x1=px(1518), y0=py(b), y1=py(t),
                  line=dict(color=FRAME, width=1), fillcolor="rgba(0,0,0,0)", layer="above")
# window strips
fig.add_shape(type="rect", xref="paper", yref="paper", x0=0, x1=1, y0=py(2.5), y1=1,
              fillcolor="#c4c4c4", line_width=0, layer="above")
fig.add_shape(type="rect", xref="paper", yref="paper", x0=0, x1=1, y0=0, y1=py(503),
              fillcolor="#d0d0d0", line_width=0, layer="above")

hidden = dict(showgrid=False, zeroline=False, showticklabels=False, ticks="", showline=False, fixedrange=True)
fig.update_layout(
    width=W, height=H, margin=dict(l=0, r=0, t=0, b=0),
    paper_bgcolor=BG, plot_bgcolor=BG, showlegend=False, barmode="overlay",
    font=dict(family=FONT, color=TXT),
    xaxis=dict(domain=[px(5), px(1518)], range=[0, (1518 - 5) / 8], anchor="y6",
               tickvals=tick_idx, ticktext=tick_text, ticklabelposition="outside right", tickangle=0,
               ticks="outside", ticklen=3, tickcolor=FRAME, tickfont=dict(size=9.5, color=TXT, family=FONT),
               showgrid=False, zeroline=False, showline=False, fixedrange=True),
    yaxis=dict(domain=[py(301), py(4)], range=[1.25060, 1.25725], anchor="x", side="right",
               tickvals=price_ticks, ticktext=[f"{v:.5f}" for v in price_ticks],
               ticks="outside", ticklen=3, tickcolor=FRAME, tickfont=dict(size=9, color=TXT, family=FONT),
               showgrid=False, zeroline=False, showline=False, fixedrange=True),
    yaxis2=dict(domain=[py(343), py(304)], range=[-1.345718, 2.332708], anchor="x", **hidden),
    yaxis3=dict(domain=[py(384), py(345)], range=[-0.0009, 0.0021], anchor="x", **hidden),
    yaxis4=dict(domain=[py(426), py(386)], range=[-3.6402, 76.4444], anchor="x", **hidden),
    yaxis5=dict(domain=[py(466), py(427)], range=[-0.8, 0.2], anchor="x", **hidden),
    yaxis6=dict(domain=[py(484), py(468)], range=[0, 1], anchor="x", **hidden),
    xaxis2=dict(domain=[px(1328.5), px(1488.5)], range=[-0.5, 7.5], anchor="y7", **hidden),
    yaxis7=dict(domain=[py(266), py(216)], range=[0, 10], anchor="x2", **hidden),
)

fig.write_html("out.html", include_plotlyjs=True, config={"displayModeBar": False},
               post_script="document.body.style.margin='0';document.body.style.overflow='hidden';")
